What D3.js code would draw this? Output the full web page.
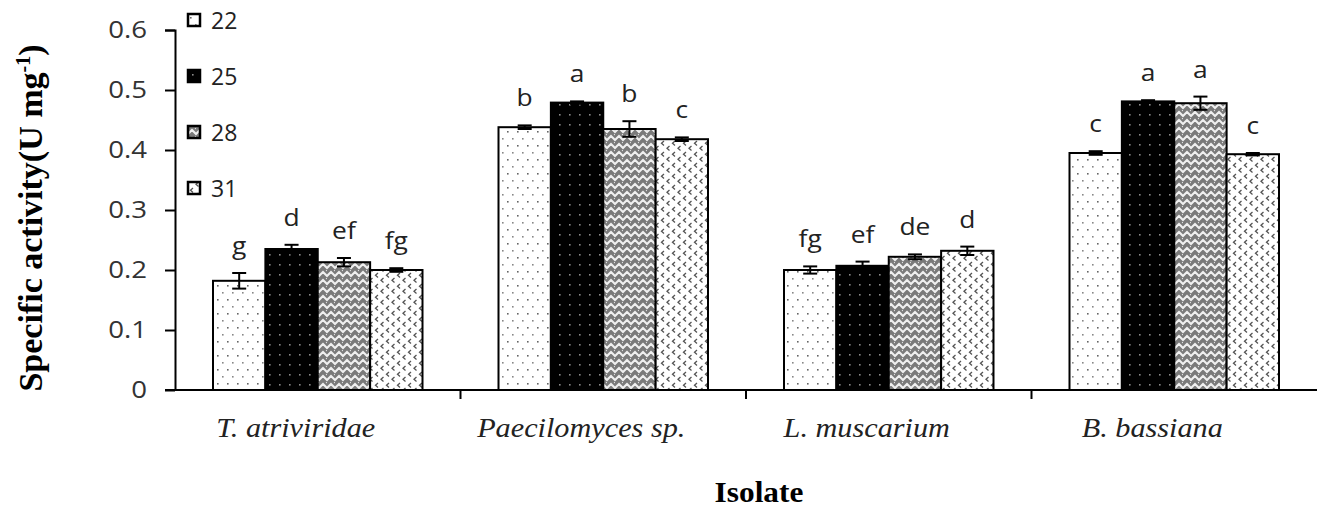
<!DOCTYPE html>
<html>
<head>
<meta charset="utf-8">
<script src="https://cdn.jsdelivr.net/npm/d3@7"></script>
<style>
  html, body { margin: 0; padding: 0; background: #fff; }
  svg { display: block; }
</style>
</head>
<body>
<div id="chart"></div>
<script>
const isolates = ['T. atriviridae', 'Paecilomyces sp.', 'L. muscarium', 'B. bassiana'];
const temps = ['22', '25', '28', '31'];

// specific activity per temperature, one value per isolate
const values22 = [0.182, 0.438, 0.200, 0.395];
const values25 = [0.235, 0.479, 0.207, 0.481];
const values28 = [0.213, 0.435, 0.222, 0.478];
const values31 = [0.200, 0.418, 0.232, 0.393];

const errors22 = [0.013, 0.003, 0.006, 0.003];
const errors25 = [0.007, 0.002, 0.007, 0.002];
const errors28 = [0.007, 0.013, 0.004, 0.011];
const errors31 = [0.003, 0.003, 0.007, 0.002];

const letters22 = ['g', 'b', 'fg', 'c'];
const letters25 = ['d', 'a', 'ef', 'a'];
const letters28 = ['ef', 'b', 'de', 'a'];
const letters31 = ['fg', 'c', 'd', 'c'];

const yTicks = [0, 0.1, 0.2, 0.3, 0.4, 0.5, 0.6];

const seriesValues = [values22, values25, values28, values31];
const seriesErrors = [errors22, errors25, errors28, errors31];
const seriesLetters = [letters22, letters25, letters28, letters31];

const W = 1323, H = 508;
const margin = { top: 30, right: 6, bottom: 118, left: 175 };
const width = W - margin.left - margin.right,
  height = H - margin.top - margin.bottom;

// widen text horizontally, the source figure is a bit stretched
function stretch(sel, k) {
  sel.each(function() {
    const len = this.getComputedTextLength();
    d3.select(this).attr('textLength', len * k).attr('lengthAdjust', 'spacingAndGlyphs');
  });
}

const svg = d3.select('#chart').append('svg')
  .attr('width', W).attr('height', H);

// fill patterns
const defs = svg.append('defs');

const p22 = defs.append('pattern').attr('id', 'p22')
  .attr('patternUnits', 'userSpaceOnUse').attr('width', 10).attr('height', 14);
p22.append('rect').attr('width', 10).attr('height', 14).attr('fill', '#fff');
p22.append('rect').attr('x', 2).attr('y', 3).attr('width', 1.6).attr('height', 1.6).attr('fill', '#666');
p22.append('rect').attr('x', 7).attr('y', 10).attr('width', 1.6).attr('height', 1.6).attr('fill', '#888');

const p25 = defs.append('pattern').attr('id', 'p25')
  .attr('patternUnits', 'userSpaceOnUse').attr('width', 10).attr('height', 10);
p25.append('rect').attr('width', 10).attr('height', 10).attr('fill', '#000');
p25.append('rect').attr('x', 4).attr('y', 4).attr('width', 1.6).attr('height', 1.6).attr('fill', '#8a8a8a');

const p28 = defs.append('pattern').attr('id', 'p28')
  .attr('patternUnits', 'userSpaceOnUse').attr('width', 8).attr('height', 8);
p28.append('rect').attr('width', 8).attr('height', 8).attr('fill', '#7a7a7a');
p28.append('path').attr('d', 'M-2,8 L4,2 L10,8 M-2,0 L0,-2 M6,-2 L10,2')
  .attr('fill', 'none').attr('stroke', '#f0f0f0').attr('stroke-width', 2);

const p31 = defs.append('pattern').attr('id', 'p31')
  .attr('patternUnits', 'userSpaceOnUse').attr('width', 11).attr('height', 11);
p31.append('rect').attr('width', 11).attr('height', 11).attr('fill', '#fff');
p31.append('path').attr('d', 'M5,1 L2.5,3.2 L5,5.4 M10.5,6 L8,8.2 L10.5,10.4')
  .attr('fill', 'none').attr('stroke', '#555').attr('stroke-width', 1.3);

const fills = ['url(#p22)', 'url(#p25)', 'url(#p28)', 'url(#p31)'];

const chart = svg.append('g')
  .attr('transform', 'translate(' + margin.left + ',' + margin.top + ')');

const x0 = d3.scaleBand().domain(isolates).range([0, width]).paddingInner(0).paddingOuter(0);
const x1 = d3.scaleBand().domain(temps).range([38, x0.bandwidth() - 38]).padding(0);
const y = d3.scaleLinear().domain([0, 0.6]).range([height, 0]);

// bars
temps.forEach((t, si) => {
  chart.selectAll('.bar' + t)
    .data(isolates)
    .enter().append('rect')
      .attr('x', d => x0(d) + x1(t))
      .attr('y', (d, i) => y(seriesValues[si][i]))
      .attr('width', x1.bandwidth())
      .attr('height', (d, i) => height - y(seriesValues[si][i]))
      .attr('fill', fills[si])
      .attr('stroke', '#000')
      .attr('stroke-width', 2);
});

// error bars and letters
temps.forEach((t, si) => {
  isolates.forEach((iso, i) => {
    const cx = x0(iso) + x1(t) + x1.bandwidth() / 2;
    const v = seriesValues[si][i], e = seriesErrors[si][i];
    const g = chart.append('g').attr('stroke', '#000').attr('stroke-width', 2);
    g.append('line').attr('x1', cx).attr('x2', cx).attr('y1', y(v + e)).attr('y2', y(v - e));
    g.append('line').attr('x1', cx - 7).attr('x2', cx + 7).attr('y1', y(v + e)).attr('y2', y(v + e));
    g.append('line').attr('x1', cx - 7).attr('x2', cx + 7).attr('y1', y(v - e)).attr('y2', y(v - e));
    chart.append('text')
      .attr('class', 'sig')
      .attr('x', cx).attr('y', y(v + e) - 19)
      .attr('text-anchor', 'middle')
      .style('font-family', '"Open Sans", sans-serif')
      .style('font-size', '24px')
      .attr('fill', '#222')
      .text(seriesLetters[si][i]);
  });
});
stretch(chart.selectAll('.sig'), 1.1);

// y axis
const yAxis = d3.axisLeft(y).tickValues(yTicks).tickSize(10).tickPadding(18)
  .tickFormat(d => d === 0 ? '0' : d3.format('.1f')(d));
const ya = chart.append('g').call(yAxis);
ya.select('.domain').attr('d', 'M-10,0.5H0.5V' + (height + 0.5));
ya.selectAll('line').attr('stroke-width', 2);
ya.select('.domain').attr('stroke-width', 2);
ya.selectAll('text')
  .style('font-family', '"Open Sans", sans-serif')
  .style('font-size', '23px')
  .attr('fill', '#333');
stretch(ya.selectAll('text'), 1.2);

// x axis
chart.append('line')
  .attr('x1', -10).attr('x2', width).attr('y1', height).attr('y2', height)
  .attr('stroke', '#000').attr('stroke-width', 2);
chart.selectAll('.xtick')
  .data(isolates.slice(1))
  .enter().append('line')
    .attr('x1', d => x0(d)).attr('x2', d => x0(d))
    .attr('y1', height).attr('y2', height + 9)
    .attr('stroke', '#000').attr('stroke-width', 2);
const xl = chart.selectAll('.xlab')
  .data(isolates)
  .enter().append('text')
    .attr('x', d => x0(d) + x0.bandwidth() / 2 - 22)
    .attr('y', height + 47)
    .attr('text-anchor', 'middle')
    .style('font-family', '"Liberation Serif", serif')
    .style('font-style', 'italic')
    .style('font-size', '27px')
    .attr('fill', '#222')
    .text(d => d);
stretch(xl, 1.12);

// axis titles
const xt = svg.append('text')
  .attr('x', 759).attr('y', 502)
  .attr('text-anchor', 'middle')
  .style('font-family', '"Liberation Serif", serif')
  .style('font-weight', 'bold')
  .style('font-size', '29px')
  .text('Isolate');
stretch(xt, 1.08);

const yt = svg.append('text')
  .attr('transform', 'translate(42,' + 218 + ') rotate(-90)')
  .attr('text-anchor', 'middle')
  .style('font-family', '"Liberation Serif", serif')
  .style('font-weight', 'bold')
  .style('font-size', '34px');
yt.append('tspan').text('Specific activity(U mg');
yt.append('tspan').attr('dy', -12).style('font-size', '20px').text('-1');
yt.append('tspan').attr('dy', 12).text(')');

// legend
const legend = svg.append('g').attr('transform', 'translate(188,0)');
temps.forEach((t, i) => {
  const ly = 20 + i * 56;
  legend.append('rect')
    .attr('x', 0).attr('y', ly - 6).attr('width', 12).attr('height', 12)
    .attr('fill', fills[i]).attr('stroke', '#000').attr('stroke-width', 2.5);
  legend.append('text')
    .attr('x', 23).attr('y', ly + 9)
    .style('font-family', '"Open Sans", sans-serif')
    .style('font-size', '23px')
    .attr('fill', '#222')
    .text(t);
});
</script>
</body>
</html>
